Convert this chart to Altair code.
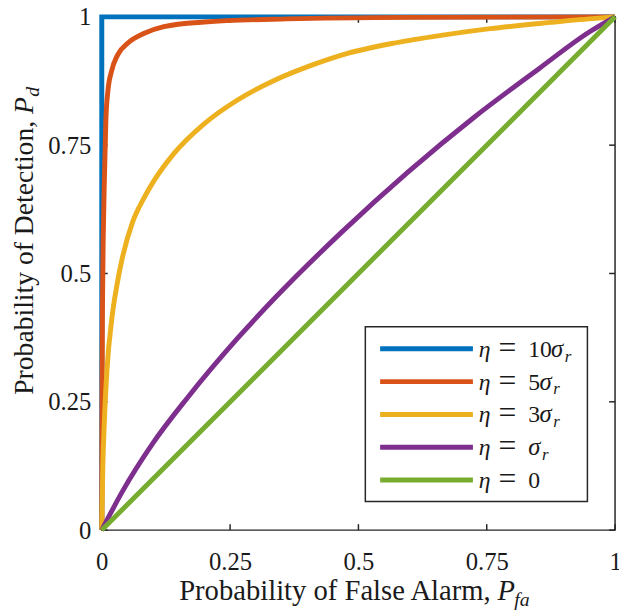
import altair as alt
import pandas as pd

# ---------------- data ----------------
series = ["η = 10σr", "η = 5σr", "η = 3σr", "η = σr", "η = 0"]
colors = ["#0072BD", "#D95319", "#EDB120", "#7E2F8E", "#77AC30"]

pfa_10 = [0, 0, 1]
pd_10 = [0, 1, 1]

pfa_5 = [0, 0.0005, 0.0015, 0.003, 0.005, 0.008, 0.012, 0.019, 0.031, 0.051,
         0.083, 0.121, 0.2, 0.36, 0.6, 1]
pd_5 = [0, 0.25, 0.45, 0.58, 0.68, 0.80, 0.856, 0.894, 0.926, 0.949,
        0.968, 0.981, 0.99, 0.996, 0.999, 1]

pfa_3 = [0, 0.002, 0.005, 0.01, 0.02, 0.03, 0.04, 0.06, 0.08, 0.1, 0.14, 0.2,
         0.263, 0.34, 0.404, 0.469, 0.565, 0.661, 0.757, 0.853, 0.949, 1]
pd_3 = [0, 0.12, 0.21, 0.31, 0.415, 0.48, 0.53, 0.6, 0.643, 0.678, 0.733, 0.792,
        0.837, 0.878, 0.904, 0.926, 0.948, 0.964, 0.977, 0.987, 0.996, 1]

pfa_1 = [0, 0.04, 0.1, 0.167, 0.263, 0.34, 0.469, 0.597, 0.725, 0.853, 0.949, 1]
pd_1 = [0, 0.075, 0.17, 0.258, 0.372, 0.455, 0.582, 0.698, 0.804, 0.9, 0.97, 1]

pfa_0 = [0, 1]
pd_0 = [0, 1]

tick_vals = [0, 0.25, 0.5, 0.75, 1]

# legend label pieces
leg_num = ["10", "5", "3", "", "0"]
leg_sigma = [1, 1, 1, 1, 0]

# ---------------- tables ----------------
rows = []
for s, xs, ys in zip(series, [pfa_10, pfa_5, pfa_3, pfa_1, pfa_0],
                     [pd_10, pd_5, pd_3, pd_1, pd_0]):
    for i, (a, b) in enumerate(zip(xs, ys)):
        rows.append({"series": s, "pfa": a, "pd": b, "i": i})
df = pd.DataFrame(rows)
ticks_df = pd.DataFrame({"v": tick_vals})
leg_df = pd.DataFrame({"series": series, "idx": list(range(len(series))),
                       "num": leg_num, "sig": leg_sigma})
one = pd.DataFrame({"a": [0]})

W, H = 520, 520
FONT = "Liberation Serif"
TXT = "#1a1a1a"
AX = "#262626"

xscale = alt.Scale(domain=[0, 1], nice=False, zero=False)
yscale = alt.Scale(domain=[0, 1], nice=False, zero=False)
axis_x = alt.Axis(values=tick_vals, format=".2~f", ticks=False, domain=False, grid=False,
                  labelFont=FONT, labelFontSize=25, labelColor=TXT, labelPadding=20,
                  labelFlush=False)
axis_y = alt.Axis(values=tick_vals, format=".2~f", ticks=False, domain=False, grid=False,
                  labelFont=FONT, labelFontSize=25, labelColor=TXT, labelPadding=11,
                  labelFlush=False)
color_scale = alt.Scale(domain=series, range=colors)

# inward ticks on all four sides
tick_b = alt.Chart(ticks_df).mark_rule(color=AX, strokeWidth=1.5).encode(
    x=alt.X("v:Q", scale=xscale, axis=axis_x, title=None),
    y=alt.value(H), y2=alt.value(H - 6))
tick_t = alt.Chart(ticks_df).mark_rule(color=AX, strokeWidth=1.5).encode(
    x=alt.X("v:Q", scale=xscale, axis=axis_x, title=None),
    y=alt.value(0), y2=alt.value(6))
tick_l = alt.Chart(ticks_df).mark_rule(color=AX, strokeWidth=1.5).encode(
    y=alt.Y("v:Q", scale=yscale, axis=axis_y, title=None),
    x=alt.value(0), x2=alt.value(6))
tick_r = alt.Chart(ticks_df).mark_rule(color=AX, strokeWidth=1.5).encode(
    y=alt.Y("v:Q", scale=yscale, axis=axis_y, title=None),
    x=alt.value(W), x2=alt.value(W - 6))

base_lines = alt.Chart(df).encode(
    x=alt.X("pfa:Q", scale=xscale, axis=axis_x, title=None),
    y=alt.Y("pd:Q", scale=yscale, axis=axis_y, title=None),
    color=alt.Color("series:N", scale=color_scale, legend=None),
    order=alt.Order("i:Q"),
    detail="series:N",
)
line_blue = base_lines.transform_filter(
    alt.FieldEqualPredicate(field="series", equal=series[0])
).mark_line(strokeWidth=5, strokeJoin="miter", strokeCap="butt")
line_rest = base_lines.transform_filter(
    alt.FieldOneOfPredicate(field="series", oneOf=series[1:])
).mark_line(strokeWidth=5, strokeCap="butt", interpolate="monotone")

# ---------------- legend (drawn by hand for the math labels) ----------------
LX0, LX1, LY0, LY1 = 267, 492, 314, 491
leg_box = alt.Chart(one).mark_rect(fill="white", stroke=AX, strokeWidth=1.5).encode(
    x=alt.value(LX0), x2=alt.value(LX1), y=alt.value(LY0), y2=alt.value(LY1))

leg_base = alt.Chart(leg_df).transform_calculate(
    ly="336.3 + 33.25*datum.idx",
    sx="432 + 11.5*length(datum.num)")

leg_lines = leg_base.mark_rule(strokeWidth=5).encode(
    x=alt.value(282), x2=alt.value(376),
    y=alt.Y("ly:Q", scale=None, axis=None),
    color=alt.Color("series:N", scale=color_scale, legend=None))

leg_eta = leg_base.mark_text(font=FONT, fontSize=24, fontStyle="italic", align="left",
                             baseline="alphabetic", dy=8, color=TXT).encode(
    x=alt.value(382), y=alt.Y("ly:Q", scale=None, axis=None), text=alt.value("η"))
leg_eq = leg_base.mark_text(font=FONT, fontSize=32, align="left",
                            baseline="alphabetic", dy=9, color=TXT).encode(
    x=alt.value(402), y=alt.Y("ly:Q", scale=None, axis=None), text=alt.value("="))
leg_n = leg_base.mark_text(font=FONT, fontSize=24, align="left",
                           baseline="alphabetic", dy=8, color=TXT).encode(
    x=alt.value(432), y=alt.Y("ly:Q", scale=None, axis=None), text="num:N")
leg_sig = leg_base.transform_filter("datum.sig == 1").mark_text(
    font=FONT, fontSize=25, fontStyle="italic", align="left",
    baseline="alphabetic", dy=8, color=TXT).encode(
    x=alt.X("sx:Q", scale=None, axis=None), y=alt.Y("ly:Q", scale=None, axis=None),
    text=alt.value("σ"))
leg_r = leg_base.transform_filter("datum.sig == 1").mark_text(
    font=FONT, fontSize=17, fontStyle="italic", align="left",
    baseline="alphabetic", dx=14, dy=13, color=TXT).encode(
    x=alt.X("sx:Q", scale=None, axis=None), y=alt.Y("ly:Q", scale=None, axis=None),
    text=alt.value("r"))

# ---------------- axis titles (with math parts) ----------------
xt_main = alt.Chart(one).mark_text(font=FONT, fontSize=29, align="right",
                                   baseline="alphabetic", color=TXT).encode(
    x=alt.value(394), y=alt.value(591), text=alt.value("Probability of False Alarm,"))
xt_p = alt.Chart(one).mark_text(font=FONT, fontSize=29, fontStyle="italic", align="left",
                                baseline="alphabetic", color=TXT).encode(
    x=alt.value(401), y=alt.value(591), text=alt.value("P"))
xt_s = alt.Chart(one).mark_text(font=FONT, fontSize=20, fontStyle="italic", align="left",
                                baseline="alphabetic", color=TXT).encode(
    x=alt.value(418), y=alt.value(597), text=alt.value("fa"))

yt_main = alt.Chart(one).mark_text(font=FONT, fontSize=28, align="right", angle=270,
                                   baseline="alphabetic", color=TXT).encode(
    x=alt.value(-70), y=alt.value(105.4), text=alt.value("Probability of Detection,"))
yt_p = alt.Chart(one).mark_text(font=FONT, fontSize=28, fontStyle="italic", align="left",
                                angle=270, baseline="alphabetic", color=TXT).encode(
    x=alt.value(-70), y=alt.value(98.4), text=alt.value("P"))
yt_s = alt.Chart(one).mark_text(font=FONT, fontSize=20, fontStyle="italic", align="left",
                                angle=270, baseline="alphabetic", color=TXT).encode(
    x=alt.value(-64), y=alt.value(81), text=alt.value("d"))

chart = alt.layer(
    tick_b, tick_t, tick_l, tick_r, line_blue, line_rest,
    leg_box, leg_lines, leg_eta, leg_eq, leg_n, leg_sig, leg_r,
    xt_main, xt_p, xt_s, yt_main, yt_p, yt_s,
).properties(
    width=W, height=H,
    autosize=alt.AutoSizeParams(type="none"),
    padding={"left": 95, "top": 5, "right": 4, "bottom": 80},
    background="white",
).configure_view(stroke=AX, strokeWidth=1.5)

chart.save("out.html", embed_options={"renderer": "svg", "actions": False})
